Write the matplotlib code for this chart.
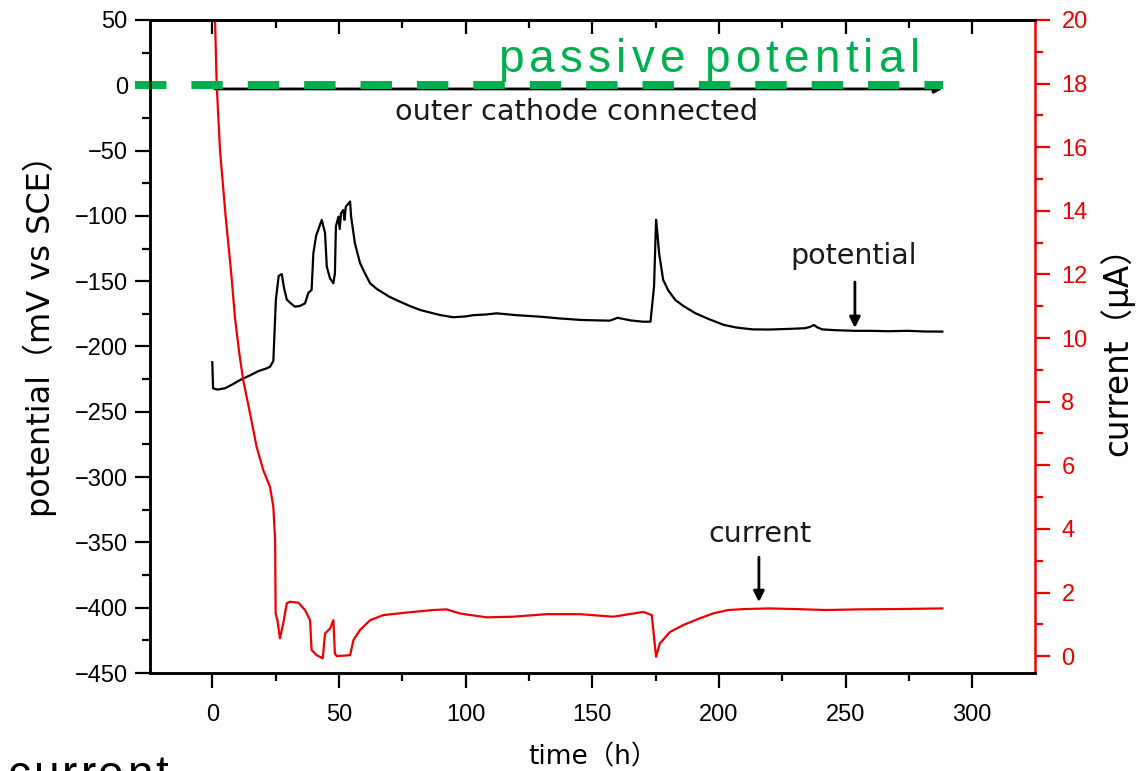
import matplotlib.pyplot as plt
from matplotlib.ticker import MultipleLocator

# potential record (mV vs SCE)
t_potential = [0, 0.3, 2, 5, 8, 11, 15, 18, 21.5, 22.8, 24.1, 25.1, 26.2, 27.4, 28.3,
               29.4, 31, 32.6, 34.5, 36.6, 37.9, 39.2, 39.9, 41, 41.8, 43.2, 44.5,
               45.2, 46.5, 47.8, 48.4, 48.8, 49.8, 50.3, 50.8, 51.7, 52.2, 52.7,
               54.4, 54.8, 56.3, 58.3, 60, 62.3, 65, 67.5, 70, 74.1, 78, 82, 86,
               89.9, 95.1, 100, 103, 108, 112.3, 120, 129.7, 137, 145.8, 152, 157,
               160, 165, 170, 173, 174.4, 175.2, 175.8, 176.4, 178, 180, 182.8,
               186, 190.8, 196, 202, 207, 213.3, 220, 228, 234, 236, 237.5, 239,
               240.8, 246, 253.6, 260, 267, 274.5, 281, 288.2]
potential_mv = [-212, -232, -233, -232, -229, -225.6, -222, -219, -216.7, -215.5,
                -211, -164, -146, -144.5, -155, -164, -167, -169.5, -169, -167, -159,
                -156.7, -128.6, -115, -110.8, -103, -113, -139, -148, -151.6, -144,
                -108, -100.6, -110, -98, -95.5, -103, -93, -89, -100.6, -121, -136,
                -143, -151.6, -156, -159, -162, -165.7, -169, -172, -174, -175.9,
                -177.6, -177, -176, -175.5, -174.6, -176, -177.2, -178.5, -179.7,
                -180, -180.2, -178, -180, -181, -181, -154, -103, -115, -128.6,
                -149, -157, -164.4, -169, -174.6, -179, -183.5, -185.5, -186.9,
                -187, -186.5, -186, -185, -183.5, -185.5, -186.9, -187.5, -188,
                -188, -188.3, -188, -188.5, -188.6]

# current record (uA)
t_current = [0, 1.07, 1.74, 3.04, 5.4, 7.4, 9, 10.7, 12.2, 14.9, 17.5, 20.1, 22.8,
             24.1, 24.8, 25, 25.7, 26.7, 28, 29.4, 30.7, 34, 36.6, 38.6, 39.2, 41.2,
             43.6, 44.5, 46.5, 47.8, 48.4, 49.1, 54.4, 55.7, 58.3, 62.3, 67.5,
             76.7, 87.2, 92.5, 97.8, 108.3, 118.8, 132, 145.2, 158.3, 170.2, 173.5,
             175.2, 176.7, 180.7, 186, 192.5, 198, 203.7, 210, 219.8, 230, 242.3,
             255, 270, 288.2]
current_ua = [23, 20, 17.96, 15.9, 13.7, 12.1, 10.6, 9.5, 8.68, 7.63, 6.58, 5.85,
              5.32, 4.69, 3.65, 1.34, 1.13, 0.56, 1.03, 1.66, 1.71, 1.68, 1.45, 1.13,
              0.19, 0.03, -0.07, 0.71, 0.87, 1.13, 0.08, 0.0, 0.03, 0.5, 0.82,
              1.13, 1.29, 1.37, 1.45, 1.47, 1.34, 1.22, 1.24, 1.32, 1.32, 1.24,
              1.39, 1.29, -0.02, 0.4, 0.76, 0.98, 1.19, 1.35, 1.45, 1.48, 1.5,
              1.48, 1.45, 1.47, 1.48, 1.5]

RED = '#ee0000'
GREEN = '#00b050'
W, H = 1143, 771

plt.rcParams['font.family'] = ['Liberation Sans', 'Noto Sans CJK JP']
label_font = ['DejaVu Sans', 'Noto Sans CJK JP']

fig = plt.figure(figsize=(W / 100, H / 100), dpi=100)
ax = fig.add_axes([150 / W, 1 - 673 / H, 885 / W, 653 / H])
ax2 = ax.twinx()

ax.plot(t_potential, potential_mv, color='black', lw=1.6)
ax2.plot(t_current, current_ua, color=RED, lw=1.6)

ax.set_xlim(-24.6, 324.8)
ax.set_ylim(-450, 50)
ax2.set_ylim(-0.53, 20)

ax.xaxis.set_major_locator(MultipleLocator(50))
ax.xaxis.set_minor_locator(MultipleLocator(25))
ax.yaxis.set_major_locator(MultipleLocator(50))
ax.yaxis.set_minor_locator(MultipleLocator(25))
ax2.yaxis.set_major_locator(MultipleLocator(2))
ax2.yaxis.set_minor_locator(MultipleLocator(1))

ax.tick_params(which='major', direction='out', length=11, width=1.6, labelsize=17)
ax.tick_params(which='minor', direction='out', length=6, width=1.6)
ax.tick_params(axis='x', pad=11)
ax.tick_params(axis='y', pad=5)
ax2.tick_params(which='major', direction='out', length=11, width=1.6,
                labelsize=17, colors=RED, pad=8)
ax2.tick_params(which='minor', direction='out', length=6, width=1.6, colors=RED)

# inward ticks along the top edge
top = ax.secondary_xaxis('top')
top.xaxis.set_major_locator(MultipleLocator(50))
top.xaxis.set_minor_locator(MultipleLocator(25))
top.tick_params(which='major', direction='in', length=10, width=1.6, labeltop=False)
top.tick_params(which='minor', direction='in', length=6, width=1.6)

for a in (ax, ax2, top):
    for sp in a.spines.values():
        sp.set_linewidth(1.8)
ax.spines['right'].set_visible(False)
ax2.spines['right'].set_color(RED)

fig.text(40 / W, 1 - 328 / H, 'potential（mV vs SCE）', rotation=90,
         ha='center', va='center', fontsize=23, family=label_font)
fig.text(1117 / W, 1 - 343 / H, 'current（μA）', rotation=90,
         ha='center', va='center', fontsize=23.5, family=label_font)
fig.text(593 / W, 1 - 757 / H, 'time（h）', ha='center', va='center',
         fontsize=19, family=label_font)

# outer cathode switched on at t = 0
ax.annotate('', xy=(288.4, -2.8), xytext=(1, -2.8),
            arrowprops=dict(arrowstyle='-|>', color='black', lw=2,
                            mutation_scale=12, shrinkA=0, shrinkB=0))
fig.text(576.5 / W, 1 - 120 / H, 'outer cathode connected', ha='center',
         va='baseline', fontsize=20.7, color='#1a1a1a', family=label_font)

ax.annotate('', xy=(253.7, -185.8), xytext=(253.7, -150.6),
            arrowprops=dict(arrowstyle='-|>', color='black', lw=2,
                            mutation_scale=16, shrinkA=0, shrinkB=0))
fig.text(854 / W, 1 - 264 / H, 'potential', ha='center', va='baseline',
         fontsize=20.5, color='#1a1a1a', family=label_font)

ax2.annotate('', xy=(215.8, 1.70), xytext=(215.8, 3.11),
             arrowprops=dict(arrowstyle='-|>', color='black', lw=2,
                             mutation_scale=16, shrinkA=0, shrinkB=0))
fig.text(760 / W, 1 - 541.7 / H, 'current', ha='center', va='baseline',
         fontsize=20.5, color='#1a1a1a', family=label_font)

# passive potential level, drawn over both curves
ax2.plot([-30.5, 288.4], [0, 0], transform=ax.transData, color=GREEN, lw=5.8,
         dashes=(3.9, 3.1), clip_on=False, solid_capstyle='butt')


def spaced_text(s, left, baseline, width, word_gap=3.5, **kw):
    # place letters one by one so the string spans `width` pixels
    r = fig.canvas.get_renderer()
    parts = [fig.text(0, 1 - baseline / H, ch, ha='left', va='baseline', **kw)
             for ch in s]
    ink = [p.get_window_extent(r).width if ch != ' ' else 0.0
           for p, ch in zip(parts, s)]
    n_letters = sum(ch != ' ' for ch in s)
    units = (n_letters - 1) + (word_gap - 1) * s.count(' ')
    gap = (width - sum(ink)) / units
    x = left
    for p, ch, w in zip(parts, s, ink):
        if ch == ' ':
            x += (word_gap - 1) * gap
            continue
        p.set_x(x / W)
        x += w + gap


spaced_text('passive potential', 498, 71.7, 422, color=GREEN, fontsize=33,
            family='Liberation Sans')
spaced_text('current', 8, 787.5, 160, color='black', fontsize=33,
            family='Liberation Sans')

fig.savefig('out.png', dpi=100)
